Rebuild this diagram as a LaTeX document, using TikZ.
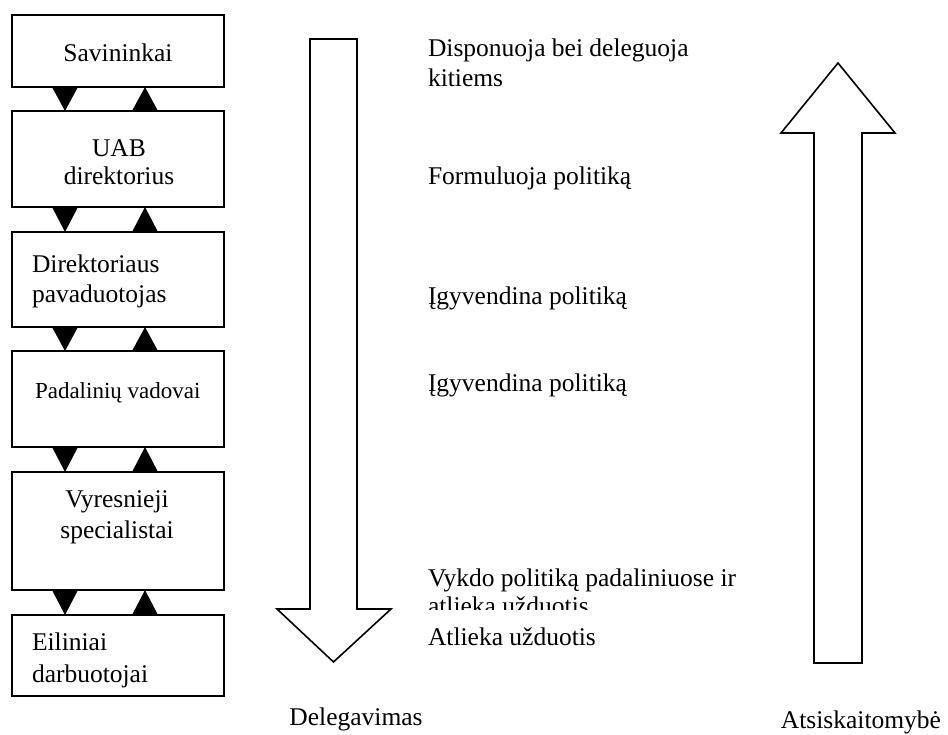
\documentclass[tikz,border=0pt]{standalone}
\usepackage{fontspec}
\setmainfont{Liberation Serif}
\usetikzlibrary{calc}
\begin{document}
\begin{tikzpicture}[x=1pt,y=-1pt,
  box/.style={draw, line width=2pt, anchor=north west, minimum width=212pt,
    inner sep=0pt, outer sep=0pt},
  lbl/.style={font=\fontsize{25.5}{28}\selectfont, inner sep=0pt, outer sep=0pt},
  small/.style={lbl, font=\fontsize{23}{26}\selectfont},
  tri/.style={fill=black},
  bigarrow/.style={draw, line width=1.6pt, line join=miter, fill=white}]
\useasboundingbox (0,0) rectangle (948,735);

% hierarchy boxes
\node[box, minimum height=72pt] (b1) at (12,15) {};
\node[box, minimum height=96pt] (b2) at (12,111) {};
\node[box, minimum height=95pt] (b3) at (12,232) {};
\node[box, minimum height=96pt] (b4) at (12,351) {};
\node[box, minimum height=118pt] (b5) at (12,472) {};
\node[box, minimum height=81pt] (b6) at (12,615) {};

% box texts (multi-line nodes sit on the baseline of their last line)
\node[lbl, anchor=base] (t1) at (118,62) {Savininkai};
\node[lbl, anchor=base, align=center] (t2) at (119,185) {UAB\\direktorius};
\node[lbl, anchor=base west, align=left] (t3) at (32,303) {Direktoriaus\\[2pt]pavaduotojas};
\node[small, anchor=base west] (t4) at (35,398) {Padalinių vadovai};
\node[lbl, anchor=base, align=center] (t5) at (117,538) {Vyresnieji\\[3pt]specialistai};
\node[lbl, anchor=base west, align=left] (t6) at (32,682) {Eiliniai\\[4pt]darbuotojai};

% delegation (down) and reporting (up) triangles between boxes
\foreach \a/\b in {b1/b2, b2/b3, b3/b4, b4/b5, b5/b6}{
  \fill[tri] ($(\a.south west)+(40,0)$) -- ($(\a.south west)+(66,0)$)
        -- ($(\b.north west)+(53,0)$) -- cycle;
  \fill[tri] ($(\b.north west)+(120,0)$) -- ($(\b.north west)+(146,0)$)
        -- ($(\a.south west)+(133,0)$) -- cycle;
}

% large delegation arrow
\draw[bigarrow] (310,39) -- (357,39) -- (357,609) -- (391,609) -- (333.5,662)
  -- (277,609) -- (310,609) -- cycle;
\node[lbl, anchor=base] (deleg) at (356,725) {Delegavimas};

% large reporting arrow
\draw[bigarrow] (838,63) -- (895,133) -- (862,133) -- (862,663) -- (814,663)
  -- (814,133) -- (781,133) -- cycle;
\node[lbl, anchor=base] (atsk) at (861,728) {Atsiskaitomybė};

% role descriptions
\node[lbl, anchor=base west, align=left] (r1) at (428,87) {Disponuoja bei deleguoja\\[2pt]kitiems};
\node[lbl, anchor=base west] (r2) at (428,185) {Formuluoja politiką};
\node[lbl, anchor=base west] (r3) at (428,305) {Įgyvendina politiką};
\node[lbl, anchor=base west] (r4) at (428,391) {Įgyvendina politiką};
\begin{scope}
  \clip (400,540) rectangle (760,609);
  \node[lbl, anchor=base west, align=left] (r5) at (428,614) {Vykdo politiką padaliniuose ir\\[0pt]atlieka užduotis};
\end{scope}
\node[lbl, anchor=base west] (r6) at (428,645) {Atlieka užduotis};
\end{tikzpicture}
\end{document}
